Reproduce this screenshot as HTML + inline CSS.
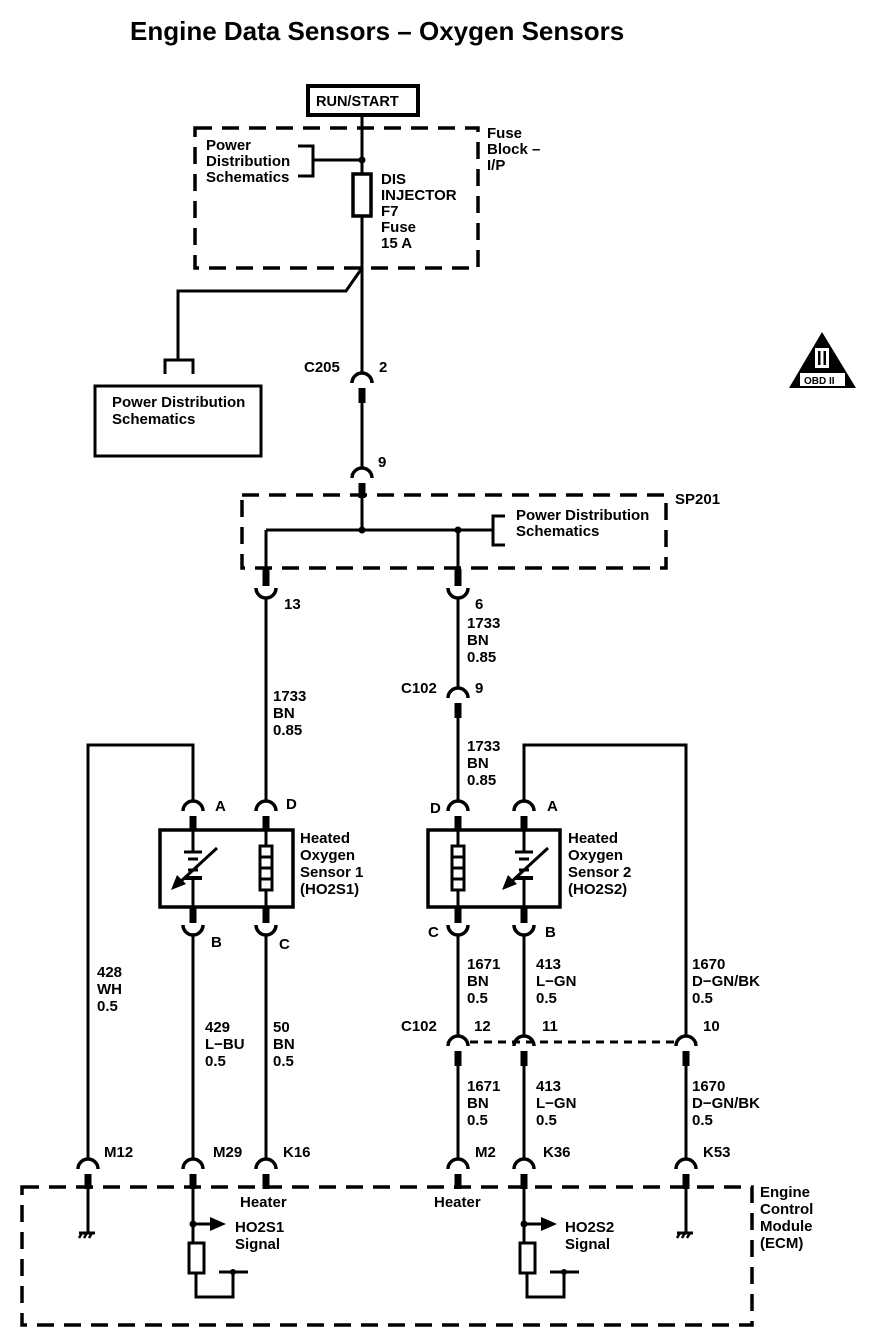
<!DOCTYPE html>
<html><head><meta charset="utf-8"><style>
html,body{margin:0;padding:0;background:#fff;}
svg{display:block;}
text{font-family:"Liberation Sans",Arial,sans-serif;font-size:15px;font-weight:bold;fill:#000;}
</style></head><body>
<svg width="878" height="1344" viewBox="0 0 878 1344" xmlns="http://www.w3.org/2000/svg">
<defs>
<g id="up"><path d="M-10 11 A10 10 0 0 1 10 11" fill="none" stroke="#000" stroke-width="3.5"/><rect x="-3.5" y="16" width="7" height="15" fill="#000"/></g>
<g id="dn"><rect x="-3.5" y="-29" width="7" height="17" fill="#000"/><path d="M-10 -10 A10 10 0 0 0 10 -10" fill="none" stroke="#000" stroke-width="3.5"/></g>
<g id="gnd"><line x1="-8" y1="0" x2="8" y2="0" stroke="#000" stroke-width="3"/><line x1="-5" y1="0" x2="-8" y2="5" stroke="#000" stroke-width="2.5"/><line x1="0" y1="0" x2="-3" y2="5" stroke="#000" stroke-width="2.5"/><line x1="5" y1="0" x2="2" y2="5" stroke="#000" stroke-width="2.5"/></g>
<g id="heat"><rect x="-6" y="0" width="12" height="44" fill="#fff" stroke="#000" stroke-width="3"/><line x1="-6" y1="11" x2="6" y2="11" stroke="#000" stroke-width="3"/><line x1="-6" y1="22" x2="6" y2="22" stroke="#000" stroke-width="3"/><line x1="-6" y1="33" x2="6" y2="33" stroke="#000" stroke-width="3"/></g>
<g id="o2" stroke="#000" fill="none"><line x1="0" y1="0" x2="0" y2="22" stroke-width="3"/><line x1="-9" y1="22" x2="9" y2="22" stroke-width="3"/><line x1="-5" y1="29" x2="5" y2="29" stroke-width="3"/><line x1="-5" y1="40" x2="5" y2="40" stroke-width="3"/><line x1="-9" y1="48" x2="9" y2="48" stroke-width="4"/><line x1="0" y1="48" x2="0" y2="77" stroke-width="3"/><line x1="24" y1="18" x2="-14" y2="53" stroke-width="3"/><polygon points="-22,60 -16,45 -7,54" fill="#000" stroke="none"/></g>
</defs>

<text x="130" y="40" style="font-size:26px">Engine Data Sensors – Oxygen Sensors</text>

<rect x="308" y="86" width="110" height="29" fill="#fff" stroke="#000" stroke-width="4"/>
<text x="316" y="106" style="font-size:14.5px">RUN/START</text>

<g fill="none" stroke="#000" stroke-width="3.5" stroke-dasharray="17,10">
<rect x="195" y="128" width="283" height="140"/>
<rect x="242" y="495" width="424" height="73"/>
<rect x="22" y="1187" width="730" height="138"/>
</g>

<g stroke="#000" stroke-width="3" fill="none">
<line x1="362" y1="117" x2="362" y2="372"/>
<polyline points="362,160 313,160"/>
<polyline points="298,146 313,146 313,176 298,176"/>
<polyline points="362,268 346,291 178,291 178,360"/>
<polyline points="165,374 165,360 193,360 193,374"/>
<line x1="362" y1="400" x2="362" y2="467"/>
<line x1="362" y1="498" x2="362" y2="530"/>
<line x1="266" y1="530" x2="458" y2="530"/>
<line x1="266" y1="530" x2="266" y2="570"/>
<line x1="458" y1="530" x2="458" y2="570"/>
<line x1="458" y1="530" x2="493" y2="530"/>
<polyline points="505,516 493,516 493,545 505,545"/>
<line x1="266" y1="598" x2="266" y2="800"/>
<line x1="458" y1="598" x2="458" y2="687"/>
<line x1="458" y1="717" x2="458" y2="800"/>
<polyline points="193,800 193,745 88,745 88,1158"/>
<polyline points="524,800 524,745 686,745 686,1035"/>
<rect x="160" y="830" width="133" height="77" stroke-width="3.5"/>
<rect x="428" y="830" width="132" height="77" stroke-width="3.5"/>
<line x1="266" y1="830" x2="266" y2="907"/>
<line x1="458" y1="830" x2="458" y2="907"/>
<line x1="193" y1="935" x2="193" y2="1158"/>
<line x1="266" y1="935" x2="266" y2="1158"/>
<line x1="458" y1="935" x2="458" y2="1035"/>
<line x1="524" y1="935" x2="524" y2="1035"/>
<line x1="458" y1="1065" x2="458" y2="1158"/>
<line x1="524" y1="1065" x2="524" y2="1158"/>
<line x1="686" y1="1065" x2="686" y2="1158"/>
<line x1="470" y1="1042" x2="675" y2="1042" stroke-dasharray="8,6"/>
<line x1="88" y1="1188" x2="88" y2="1232"/>
<line x1="686" y1="1188" x2="686" y2="1232"/>
<line x1="193" y1="1188" x2="193" y2="1243"/>
<line x1="524" y1="1188" x2="524" y2="1243"/>
<line x1="193" y1="1224" x2="212" y2="1224"/>
<line x1="524" y1="1224" x2="543" y2="1224"/>
<rect x="189" y="1243" width="15" height="30"/>
<rect x="520" y="1243" width="15" height="30"/>
<polyline points="196,1273 196,1297 233,1297 233,1272"/>
<polyline points="527,1273 527,1297 564,1297 564,1272"/>
<line x1="219" y1="1272" x2="248" y2="1272"/>
<line x1="550" y1="1272" x2="579" y2="1272"/>
<rect x="95" y="386" width="166" height="70" stroke-width="3"/>
<rect x="353" y="174" width="18" height="42" stroke-width="3.5" fill="#fff"/>
</g>
<g fill="#000">
<circle cx="362" cy="160" r="3.5"/><circle cx="362" cy="530" r="3.5"/><circle cx="458" cy="530" r="3.5"/>
<circle cx="193" cy="1224" r="3.5"/><circle cx="524" cy="1224" r="3.5"/>
<circle cx="233" cy="1272" r="3"/><circle cx="564" cy="1272" r="3"/>
<polygon points="210,1217 226,1224 210,1231"/><polygon points="541,1217 557,1224 541,1231"/>
</g>

<use href="#up" x="362" y="372"/><use href="#up" x="362" y="467"/>
<use href="#up" x="458" y="687"/>
<use href="#up" x="193" y="800"/><use href="#up" x="266" y="800"/><use href="#up" x="458" y="800"/><use href="#up" x="524" y="800"/>
<use href="#up" x="458" y="1035"/><use href="#up" x="524" y="1035"/><use href="#up" x="686" y="1035"/>
<use href="#up" x="88" y="1158"/><use href="#up" x="193" y="1158"/><use href="#up" x="266" y="1158"/><use href="#up" x="458" y="1158"/><use href="#up" x="524" y="1158"/><use href="#up" x="686" y="1158"/>
<use href="#dn" x="266" y="598"/><use href="#dn" x="458" y="598"/>
<use href="#dn" x="193" y="935"/><use href="#dn" x="266" y="935"/><use href="#dn" x="458" y="935"/><use href="#dn" x="524" y="935"/>
<use href="#o2" x="193" y="830"/><use href="#o2" x="524" y="830"/>
<use href="#heat" x="266" y="846"/><use href="#heat" x="458" y="846"/>
<use href="#gnd" x="87" y="1233"/><use href="#gnd" x="685" y="1233"/>

<polygon points="822,332 789,388 856,388" fill="#000"/>
<rect x="815" y="348" width="14" height="20" fill="#fff"/>
<rect x="818" y="351" width="2.5" height="14" fill="#000"/><rect x="823.5" y="351" width="2.5" height="14" fill="#000"/>
<rect x="800" y="373" width="45" height="13" fill="#fff"/>
<text x="804" y="384" style="font-size:10px">OBD II</text>

<text x="206" y="150">Power</text><text x="206" y="166">Distribution</text><text x="206" y="182">Schematics</text>
<text x="381" y="184">DIS</text><text x="381" y="200">INJECTOR</text><text x="381" y="216">F7</text><text x="381" y="232">Fuse</text><text x="381" y="248">15 A</text>
<text x="487" y="138">Fuse</text><text x="487" y="154">Block –</text><text x="487" y="170">I/P</text>
<text x="112" y="407">Power Distribution</text><text x="112" y="424">Schematics</text>
<text x="304" y="372">C205</text><text x="379" y="372">2</text><text x="378" y="467">9</text>
<text x="675" y="504">SP201</text>
<text x="516" y="520">Power Distribution</text><text x="516" y="536">Schematics</text>
<text x="284" y="609">13</text><text x="475" y="609">6</text>
<text x="467" y="628">1733</text><text x="467" y="645">BN</text><text x="467" y="662">0.85</text>
<text x="401" y="693">C102</text><text x="475" y="693">9</text>
<text x="273" y="701">1733</text><text x="273" y="718">BN</text><text x="273" y="735">0.85</text>
<text x="467" y="751">1733</text><text x="467" y="768">BN</text><text x="467" y="785">0.85</text>
<text x="215" y="811">A</text><text x="286" y="809">D</text><text x="430" y="813">D</text><text x="547" y="811">A</text>
<text x="300" y="843">Heated</text><text x="300" y="860">Oxygen</text><text x="300" y="877">Sensor 1</text><text x="300" y="894">(HO2S1)</text>
<text x="568" y="843">Heated</text><text x="568" y="860">Oxygen</text><text x="568" y="877">Sensor 2</text><text x="568" y="894">(HO2S2)</text>
<text x="211" y="947">B</text><text x="279" y="949">C</text><text x="428" y="937">C</text><text x="545" y="937">B</text>
<text x="467" y="969">1671</text><text x="467" y="986">BN</text><text x="467" y="1003">0.5</text>
<text x="536" y="969">413</text><text x="536" y="986">L−GN</text><text x="536" y="1003">0.5</text>
<text x="692" y="969">1670</text><text x="692" y="986">D−GN/BK</text><text x="692" y="1003">0.5</text>
<text x="97" y="977">428</text><text x="97" y="994">WH</text><text x="97" y="1011">0.5</text>
<text x="205" y="1032">429</text><text x="205" y="1049">L−BU</text><text x="205" y="1066">0.5</text>
<text x="273" y="1032">50</text><text x="273" y="1049">BN</text><text x="273" y="1066">0.5</text>
<text x="401" y="1031">C102</text><text x="474" y="1031">12</text><text x="542" y="1031">11</text><text x="703" y="1031">10</text>
<text x="467" y="1091">1671</text><text x="467" y="1108">BN</text><text x="467" y="1125">0.5</text>
<text x="536" y="1091">413</text><text x="536" y="1108">L−GN</text><text x="536" y="1125">0.5</text>
<text x="692" y="1091">1670</text><text x="692" y="1108">D−GN/BK</text><text x="692" y="1125">0.5</text>
<text x="104" y="1157">M12</text><text x="213" y="1157">M29</text><text x="283" y="1157">K16</text>
<text x="475" y="1157">M2</text><text x="543" y="1157">K36</text><text x="703" y="1157">K53</text>
<text x="240" y="1207">Heater</text><text x="434" y="1207">Heater</text>
<text x="235" y="1232">HO2S1</text><text x="235" y="1249">Signal</text>
<text x="565" y="1232">HO2S2</text><text x="565" y="1249">Signal</text>
<text x="760" y="1197">Engine</text><text x="760" y="1214">Control</text><text x="760" y="1231">Module</text><text x="760" y="1248">(ECM)</text>
</svg>
</body></html>
